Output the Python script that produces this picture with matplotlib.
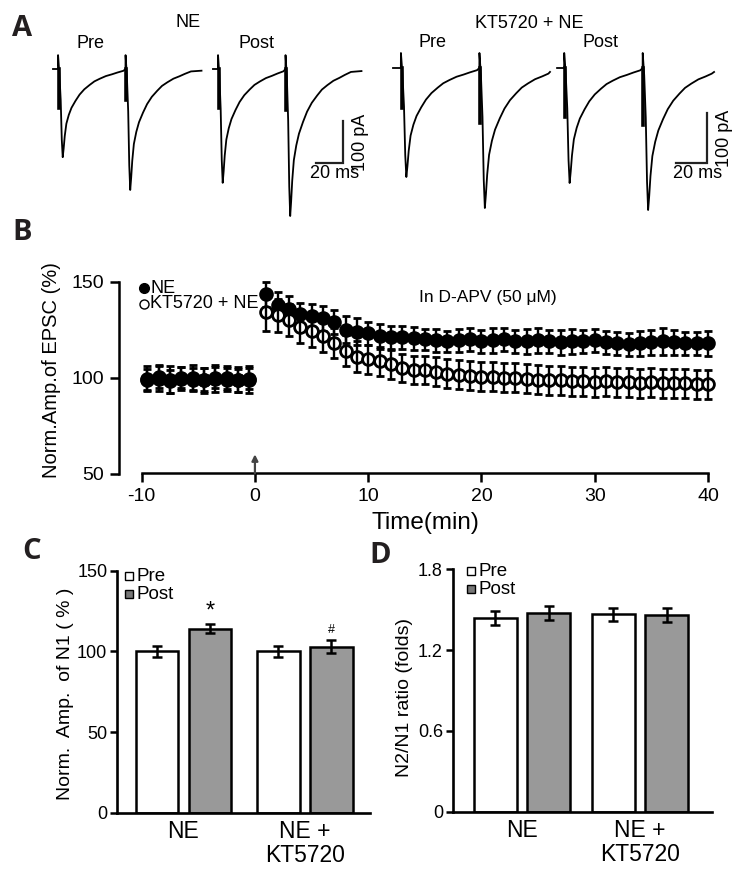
import numpy as np
import matplotlib
matplotlib.use('Agg')
import matplotlib.pyplot as plt
from matplotlib import font_manager

# ---------------- DATA ----------------
# Panel A: digitised normalised EPSC waveform (ms after stimulus, fraction of peak)
epsc_t = [1.0, 2.0, 2.8, 3.5, 4.2, 5.0, 6.2, 8.0, 10, 13, 16, 19.5, 23.5, 27, 31, 35.5, 40, 44, 48.5]
epsc_y = [0.05, 0.35, 0.80, 1.00, 0.90, 0.76, 0.62, 0.52, 0.44, 0.36, 0.29, 0.23, 0.18, 0.14, 0.11, 0.08, 0.06, 0.04, 0.02]
# peak amplitudes (pA) of EPSC1 / EPSC2 and stimulus-artifact depth (pA)
ne_pre_peaks = [210, 288]
ne_post_peaks = [271, 350]
kt_pre_peaks = [218, 280]
kt_post_peaks = [230, 284]
ne_pre_art = [93, 74]
ne_post_art = [93, 98]
kt_pre_art = [80, 110]
kt_post_art = [98, 114]

# Panel B
time_pre = [-9.5, -8.5, -7.5, -6.5, -5.5, -4.5, -3.5, -2.5, -1.5, -0.5]
ne_pre = [99.5, 100.5, 99, 99.5, 100, 99, 99.5, 100, 99, 99]
ne_pre_err = [6.5, 6, 7, 6, 6.5, 6, 7, 6, 6.5, 7]
kt_pre = [99, 99.5, 98, 100, 99, 98.5, 100, 99, 98.5, 99.5]
kt_pre_err = [5.5, 6.5, 6, 5.5, 6, 6.5, 5.5, 6, 6, 5.5]
time_post = list(range(1, 41))
ne_post = [143.5, 138, 136, 133, 132, 131, 129, 125, 124, 123, 121.5, 121, 121, 120.5, 120,
           119.5, 119, 119.5, 120, 119, 119.5, 120, 119, 119, 119.5, 119, 118.5, 119, 119, 119.5,
           118.5, 118, 117.5, 118, 118.5, 119, 118.5, 118, 118, 118]
ne_post_err = [6.5, 6.5, 6.5, 6, 6.5, 6.5, 6.5, 7, 7, 6, 6.5, 6, 6, 6, 5.5,
               6, 5.5, 6, 6, 6, 6.5, 6, 6, 6.5, 6.5, 6, 6.5, 6.5, 6, 6,
               6, 6, 6, 6.5, 6.5, 7, 6.5, 6, 6, 6.5]
kt_post = [134, 132.5, 130, 126.5, 124.5, 121.5, 118, 114, 111, 109.5, 108.5, 107, 105, 104, 104,
           103, 102, 101.5, 101, 100.5, 100.5, 100, 100, 99.5, 99, 98.5, 98.5, 98, 98, 97.5,
           98, 97.5, 97.5, 97, 97.5, 97, 97, 97, 96.5, 96.5]
kt_post_err = [9.5, 8.5, 8.5, 8.5, 8.5, 8, 8, 8, 8, 7.5, 7.5, 7.5, 7.5, 7.5, 7.5,
               7.5, 7.5, 7.5, 7.5, 7.5, 7.5, 7.5, 7.5, 7.5, 7.5, 7.5, 7.5, 7.5, 7.5, 7.5,
               7.5, 7.5, 7.5, 7.5, 7.5, 7.5, 7.5, 7.5, 7.5, 7.5]

# Panel C
groups = ['NE', 'NE +\nKT5720']
c_pre = [100, 100]
c_pre_err = [3.5, 3.5]
c_post = [114, 103]
c_post_err = [2.7, 4.1]
c_marks = ['*', '#']

# Panel D
d_pre = [1.44, 1.465]
d_pre_err = [0.05, 0.05]
d_post = [1.477, 1.46]
d_post_err = [0.05, 0.05]

# ---------------- SETUP ----------------
W, H = 735, 882
fig = plt.figure(figsize=(W / 100, H / 100), dpi=100)
names = {f.name for f in font_manager.fontManager.ttflist}
MAIN = 'Liberation Sans' if 'Liberation Sans' in names else 'DejaVu Sans'
BOLD = 'Open Sans' if 'Open Sans' in names else MAIN
plt.rcParams['font.family'] = [MAIN, 'DejaVu Sans']
plt.rcParams['axes.unicode_minus'] = False
GRAY = '#999999'


def ax_px(x0, y0, x1, y1):
    return fig.add_axes([x0 / W, 1 - y1 / H, (x1 - x0) / W, (y1 - y0) / H])


def ftext(x, y, s, **kw):
    return fig.text(x / W, 1 - y / H, s, **kw)


# ---------------- PANEL A ----------------
def draw_trace(ax, start, stims, end, peaks, arts, up):
    ts, ys = [start], [0.0]
    for k, (s, p) in enumerate(zip(stims, peaks)):
        limit = stims[k + 1] if k + 1 < len(stims) else end
        ts += [s, s + 0.05]
        ys += [0.0, up]
        for t, f in zip(epsc_t, epsc_y):
            if s + t < limit:
                ts.append(s + t)
                ys.append(-p * f)
    ts.append(end)
    ys.append(ys[-1] * 0.7)
    ax.plot(ts, ys, color='black', lw=1.3, solid_joinstyle='round')
    for s, a in zip(stims, arts):
        ax.plot([s + 0.5, s + 0.5], [0, -a], color='black', lw=2.6)


def trace_axes(x0, x1, y0, y1, t0px, basepx, pxms, pxpa):
    ax = ax_px(x0, y0, x1, y1)
    ax.set_xlim((x0 - t0px) / pxms, (x1 - t0px) / pxms)
    ax.set_ylim(-(y1 - basepx) / pxpa, (basepx - y0) / pxpa)
    ax.axis('off')
    return ax


ATXT = 13
# left (NE)
pxms_l, pxpa_l = 1.35, 0.42
axAl = trace_axes(40, 372, 40, 225, 53, 69, pxms_l, pxpa_l)
draw_trace(axAl, 0, [3.7, 53.7], 110, ne_pre_peaks, ne_pre_art, 33)
draw_trace(axAl, 118.5, [122.2, 172.2], 228.5, ne_post_peaks, ne_post_art, 33)
xe, yb = (343 - 53) / pxms_l, -(163 - 69) / pxpa_l
axAl.plot([xe - 20, xe, xe], [yb, yb, yb + 100], color='#222', lw=1.6, solid_joinstyle='miter')
axAl.text(xe + 7.0, yb + 50, '100 pA', rotation=90, va='center', ha='left', fontsize=ATXT)
axAl.text(xe - 6, yb - 5, '20 ms', va='top', ha='center', fontsize=ATXT)

# right (KT5720 + NE)
pxms_r, pxpa_r = 1.57, 0.50
axAr = trace_axes(380, 735, 40, 225, 393, 68, pxms_r, pxpa_r)
draw_trace(axAr, 0, [5, 55], 100, kt_pre_peaks, kt_pre_art, 30)
draw_trace(axAr, 104.5, [109, 159], 204.5, kt_post_peaks, kt_post_art, 30)
xe, yb = (707 - 393) / pxms_r, -(163 - 68) / pxpa_r
axAr.plot([xe - 20, xe, xe], [yb, yb, yb + 100], color='#222', lw=1.6, solid_joinstyle='miter')
axAr.text(xe + 5.5, yb + 50, '100 pA', rotation=90, va='center', ha='left', fontsize=ATXT)
axAr.text(xe - 6, yb - 4, '20 ms', va='top', ha='center', fontsize=ATXT)

ftext(188, 27, 'NE', ha='center', va='baseline', fontsize=ATXT)
ftext(90, 48, 'Pre', ha='center', va='baseline', fontsize=ATXT)
ftext(257, 48, 'Post', ha='center', va='baseline', fontsize=ATXT)
ftext(529, 28, 'KT5720 + NE', ha='center', va='baseline', fontsize=ATXT)
ftext(432, 47, 'Pre', ha='center', va='baseline', fontsize=ATXT)
ftext(600, 47, 'Post', ha='center', va='baseline', fontsize=ATXT)

# panel letters
for lx, ly, L in [(12, 36, 'A'), (12, 240, 'B'), (22, 559, 'C'), (369, 563, 'D')]:
    ftext(lx, ly, L, ha='left', va='baseline', fontsize=21, fontweight='bold',
          family=[BOLD, 'DejaVu Sans'], color='#231f20')

# ---------------- PANEL B ----------------
axB = ax_px(119, 281.7, 708, 473.5)
axB.set_xlim(-12, 40)
axB.set_ylim(50, 150)


def eb(ax, x, y, e, filled, z):
    c = ax.errorbar(x, y, yerr=e, fmt='o', ms=8.5, mfc='black' if filled else 'white',
                    mec='black', mew=2.0, ecolor='black', elinewidth=1.7, capsize=3.2,
                    capthick=1.7, zorder=z)
    for art in c.get_children():
        art.set_clip_on(False)
        art.set_zorder(z)


eb(axB, time_pre, kt_pre, kt_pre_err, False, 3)
eb(axB, time_pre, ne_pre, ne_pre_err, True, 4)
eb(axB, time_post, ne_post, ne_post_err, True, 3)
eb(axB, time_post, kt_post, kt_post_err, False, 4)

for sp in ['top', 'right']:
    axB.spines[sp].set_visible(False)
for sp in ['left', 'bottom']:
    axB.spines[sp].set_linewidth(1.8)
axB.spines['bottom'].set_bounds(-10, 40)
axB.set_yticks([50, 100, 150])
axB.set_xticks([-10, 0, 10, 20, 30, 40])
axB.tick_params(axis='both', direction='out', length=6.5, width=1.8, pad=4, labelsize=14)
axB.set_xlabel('Time(min)', fontsize=17.5)
axB.xaxis.set_label_coords(0.52, -0.2)
axB.set_ylabel('Norm.Amp.of EPSC (%)', fontsize=14.5)
axB.yaxis.set_label_coords(-0.098, 0.54)
axB.annotate('', xy=(0, 60), xytext=(0, 50),
             arrowprops=dict(arrowstyle='-|>', color='#444', lw=1.6, mutation_scale=9,
                             shrinkA=0, shrinkB=0))
axB.text(20.6, 142, 'In D-APV (50 μM)', ha='center', va='center', fontsize=12.5)
# legend
axB.plot([-9.8], [146.5], 'o', ms=7, mfc='black', mec='black', clip_on=False)
axB.text(-9.2, 146.5, 'NE', va='center', ha='left', fontsize=13)
axB.plot([-9.75], [138.5], 'o', ms=6.5, mfc='white', mec='black', mew=1.0, clip_on=False)
axB.text(-9.3, 138.5, 'KT5720 + NE', va='center', ha='left', fontsize=13)


# ---------------- PANELS C & D ----------------
def bar_panel(ax, pre, pre_err, post, post_err, off, w, yticks, ylab, lab_xy):
    x = np.arange(len(groups))
    ax.bar(x - off, pre, w, color='white', edgecolor='black', lw=1.8, zorder=2)
    ax.bar(x + off, post, w, color=GRAY, edgecolor='black', lw=1.8, zorder=2)
    ax.errorbar(x - off, pre, yerr=pre_err, fmt='none', ecolor='black', elinewidth=1.8,
                capsize=3.6, capthick=1.8, zorder=3)
    ax.errorbar(x + off, post, yerr=post_err, fmt='none', ecolor='black', elinewidth=1.8,
                capsize=3.6, capthick=1.8, zorder=3)
    for sp in ['top', 'right']:
        ax.spines[sp].set_visible(False)
    for sp in ['left', 'bottom']:
        ax.spines[sp].set_linewidth(1.9)
    ax.set_yticks(yticks)
    ax.tick_params(axis='y', direction='out', length=5, width=1.8, labelsize=13, pad=2)
    ax.set_xticks(x)
    ax.set_xticklabels(groups, fontsize=16.5, linespacing=1.05)
    ax.tick_params(axis='x', length=0, pad=5)
    ax.set_ylabel(ylab, fontsize=14)
    ax.yaxis.set_label_coords(*lab_xy)


axC = ax_px(117, 570.7, 370, 812.7)
axC.set_xlim(-0.547, 1.535)
axC.set_ylim(0, 150)
bar_panel(axC, c_pre, c_pre_err, c_post, c_post_err, 0.218, 0.346, [0, 50, 100, 150],
          'Norm.  Amp.  of N1 ( % )', (-0.17, 0.49))
axC.set_yticklabels(['0', '50', '100', '150'])
for i, m in enumerate(c_marks):
    top = c_post[i] + c_post_err[i]
    if m == '*':
        axC.text(i + 0.218, top + 1.0, m, ha='center', va='bottom', fontsize=17)
    else:
        axC.text(i + 0.218, top + 2.5, m, ha='center', va='bottom', fontsize=9)
axC.plot([-0.45], [146.5], 's', ms=6, mfc='white', mec='black', mew=1.0, clip_on=False)
axC.text(-0.39, 146.5, 'Pre', va='center', ha='left', fontsize=13.5)
axC.plot([-0.45], [135.5], 's', ms=6, mfc='#777777', mec='black', mew=1.0, clip_on=False)
axC.text(-0.39, 135.5, 'Post', va='center', ha='left', fontsize=13.5)

axD = ax_px(452.7, 569.3, 712, 811.7)
axD.set_xlim(-0.587, 1.61)
axD.set_ylim(0, 1.8)
bar_panel(axD, d_pre, d_pre_err, d_post, d_post_err, 0.225, 0.364, [0, 0.6, 1.2, 1.8],
          'N2/N1 ratio (folds)', (-0.155, 0.47))
axD.set_yticklabels(['0', '0.6', '1.2', '1.8'])
axD.plot([-0.43], [1.785], 's', ms=6, mfc='white', mec='black', mew=1.0, clip_on=False)
axD.text(-0.37, 1.785, 'Pre', va='center', ha='left', fontsize=13.5)
axD.plot([-0.43], [1.652], 's', ms=6, mfc='#777777', mec='black', mew=1.0, clip_on=False)
axD.text(-0.37, 1.652, 'Post', va='center', ha='left', fontsize=13.5)

fig.savefig('out.png', dpi=100)
